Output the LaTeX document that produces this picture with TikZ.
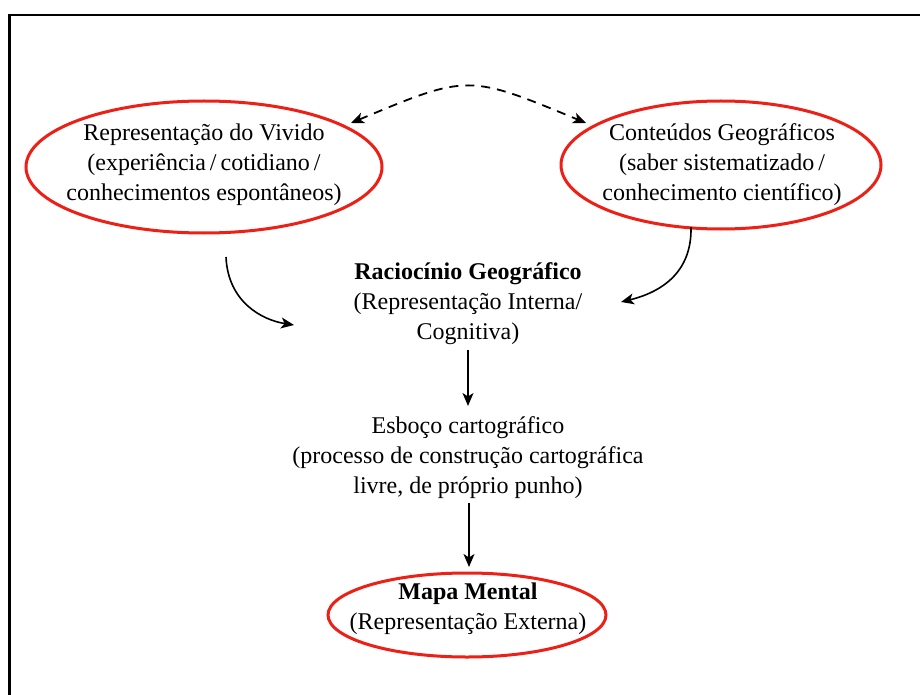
\documentclass[tikz,border=0pt]{standalone}
\usepackage{fontspec}
\setmainfont{Liberation Serif}
\usetikzlibrary{arrows.meta}
\definecolor{ovalred}{RGB}{236,32,22}
\begin{document}
\begin{tikzpicture}[x=1pt,y=-1pt,
  txt/.style={align=center,font=\fontsize{24}{30}\selectfont,inner sep=0pt},
  ovalline/.style={draw=ovalred,line width=3pt},
  link/.style={line width=1.6pt,-{Stealth[length=13pt,width=11pt,inset=3.5pt]}},
  dlink/.style={line width=1.8pt,dash pattern=on 9pt off 7pt,
    {Stealth[length=13pt,width=11pt,inset=3.5pt]}-{Stealth[length=13pt,width=11pt,inset=3.5pt]}}]
  \useasboundingbox (0,0) rectangle (920,695);
  % outer frame (left and top edges)
  \draw[line width=2.2pt] (9.5,695) -- (9.5,15) -- (920,15);

  % the two source ovals
  \node[txt] (vivido) at (204,165)
    {Representação do Vivido\\(experiência\,/\,cotidiano\,/\\conhecimentos espontâneos)};
  \draw[ovalline] (204,167) ellipse [x radius=178, y radius=66];
  \node[txt] (conteudos) at (722,165)
    {Conteúdos Geográficos\\(saber sistematizado\,/\\conhecimento científico)};
  \draw[ovalline] (721,165) ellipse [x radius=160, y radius=64];

  % central reasoning and sketch blocks
  \node[txt] (raciocinio) at (468,304)
    {\textbf{Raciocínio Geográfico}\\(Representação Interna/\\Cognitiva)};
  \node[txt] (esboco) at (468,458)
    {Esboço cartográfico\\(processo de construção cartográfica\\livre, de próprio punho)};

  % resulting map
  \node[txt] (mapa) at (468,609)
    {\textbf{Mapa Mental}\\(Representação Externa)};
  \draw[ovalline] (467,615) ellipse [x radius=139, y radius=42];

  % free ends of the connectors
  \coordinate (vstart) at (226,257);
  \coordinate (vend) at (294,325);
  \coordinate (cstart) at (691,227);
  \coordinate (cend) at (621,302);
  \coordinate (dl) at (351,123);
  \coordinate (dr) at (586,123);
  \coordinate (rfoot) at (468,350);
  \coordinate (ehead) at (468,406);
  \coordinate (efoot) at (469,503);
  \coordinate (mhead) at (469,567);

  \draw[dlink] (dl) .. controls (468,74) .. (dr);
  \draw[link] (vstart) .. controls (228,302) and (262,320) .. (vend);
  \draw[link] (cstart) .. controls (692,272) and (662,292) .. (cend);
  \draw[link] (rfoot) -- (ehead);
  \draw[link] (efoot) -- (mhead);
\end{tikzpicture}
\end{document}
